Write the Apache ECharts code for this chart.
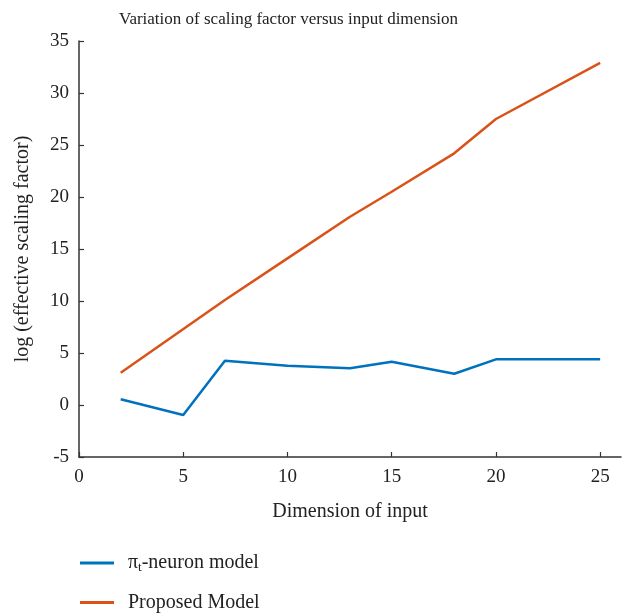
<!DOCTYPE html>
<html>
<head>
<meta charset="utf-8">
<script src="https://cdn.jsdelivr.net/npm/echarts@6/dist/echarts.min.js"></script>
<style>html,body{margin:0;padding:0;background:#fff;}#c{width:628px;height:614px;}</style>
</head>
<body>
<div id="c"></div>
<script>
const dims = [2, 5, 7, 10, 13, 15, 18, 20, 25];
const piNeuron = [0.55, -0.96, 4.26, 3.78, 3.53, 4.16, 3.01, 4.39, 4.39];
const propDims = [2, 7, 10, 13, 15, 18, 20, 25];
const proposed = [3.1, 10.1, 14.1, 18.1, 20.5, 24.2, 27.5, 32.9];
const seriesNames = ['πt-neuron model', 'Proposed Model'];
const xTicks = [0, 5, 10, 15, 20, 25];

const font = 'Liberation Serif';
const chart = echarts.init(document.getElementById('c'), null, {renderer: 'canvas'});
const pair = (xs, ys) => xs.map((x, i) => [x, ys[i]]);

chart.setOption({
  animation: false,
  backgroundColor: '#fff',
  title: {
    text: 'Variation of scaling factor versus input dimension',
    left: 114, top: 6,
    textStyle: {fontFamily: font, fontSize: 17, fontWeight: 'normal', color: '#222'}
  },
  grid: {left: 79, right: 7, top: 41, bottom: 157, containLabel: false},
  legend: {
    orient: 'vertical', left: 80, top: 553, itemGap: 18, padding: 0,
    itemWidth: 34, itemHeight: 20,
    icon: 'path://M0,8.5 L34,8.5 L34,11.5 L0,11.5 Z',
    data: seriesNames,
    formatter: function (n) {
      return n === seriesNames[0] ? '{a|π}{s|t}{a|-neuron model}' : '{a|' + n + '}';
    },
    textStyle: {
      fontFamily: font, fontSize: 20, color: '#222', padding: [0, 0, 0, 9],
      rich: {
        a: {fontFamily: font, fontSize: 20, color: '#222'},
        s: {fontFamily: font, fontSize: 13, color: '#222', verticalAlign: 'bottom', padding: [10, 0, 0, 0]}
      }
    }
  },
  xAxis: {
    type: 'value', min: 0, max: 26, interval: 5,
    name: 'Dimension of input', nameLocation: 'middle', nameGap: 45,
    nameTextStyle: {fontFamily: font, fontSize: 20, color: '#222'},
    axisLine: {show: true, onZero: false, lineStyle: {color: '#333', width: 1.5}},
    axisTick: {show: true, inside: true, length: 5, lineStyle: {color: '#333', width: 1.2}},
    axisLabel: {fontFamily: font, fontSize: 19, color: '#222', margin: 11, showMaxLabel: false,
      formatter: v => xTicks.includes(v) ? String(v) : ''},
    splitLine: {show: false}
  },
  yAxis: {
    type: 'value', min: -5, max: 35, interval: 5,
    name: 'log (effective scaling factor)', nameLocation: 'middle', nameGap: 46,
    nameTextStyle: {fontFamily: font, fontSize: 20, color: '#222'},
    axisLine: {show: true, onZero: false, lineStyle: {color: '#333', width: 1.5}},
    axisTick: {show: true, inside: true, length: 5, lineStyle: {color: '#333', width: 1.2}},
    axisLabel: {fontFamily: font, fontSize: 19, color: '#222', margin: 10},
    splitLine: {show: false}
  },
  series: [
    {name: seriesNames[0], type: 'line', data: pair(dims, piNeuron), showSymbol: false,
     lineStyle: {color: '#0072BD', width: 2.5}, itemStyle: {color: '#0072BD'}},
    {name: seriesNames[1], type: 'line', data: pair(propDims, proposed), showSymbol: false,
     lineStyle: {color: '#D95319', width: 2.5}, itemStyle: {color: '#D95319'}}
  ]
});
</script>
</body>
</html>
